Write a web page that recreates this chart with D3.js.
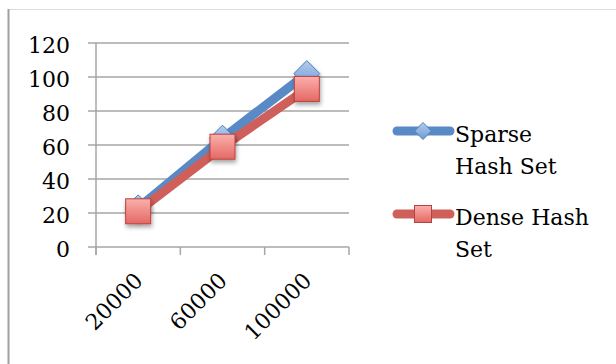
<!DOCTYPE html>
<html>
<head>
<meta charset="utf-8">
<script src="https://cdn.jsdelivr.net/npm/d3@7"></script>
<style>
  html, body { margin: 0; padding: 0; background: #fff; }
  svg { display: block; }
  text { font-family: "DejaVu Serif", serif; fill: #000; }
</style>
</head>
<body>
<script>
// Chart data
const categories = ["20000", "60000", "100000"];
const sparseValues = [23, 64, 102];
const denseValues = [21, 59, 93];
const yTicks = [0, 20, 40, 60, 80, 100, 120];
const seriesNames = ["Sparse Hash Set", "Dense Hash Set"];

const W = 616, H = 364;
const svg = d3.select("body").append("svg").attr("width", W).attr("height", H);

const defs = svg.append("defs");
const gBlue = defs.append("linearGradient").attr("id", "gBlue").attr("x1", 0).attr("y1", 0).attr("x2", 0).attr("y2", 1);
gBlue.append("stop").attr("offset", "0%").attr("stop-color", "#b3cdee");
gBlue.append("stop").attr("offset", "100%").attr("stop-color", "#6f9ad6");
const gRed = defs.append("linearGradient").attr("id", "gRed").attr("x1", 0).attr("y1", 0).attr("x2", 0).attr("y2", 1);
gRed.append("stop").attr("offset", "0%").attr("stop-color", "#fbb0ad");
gRed.append("stop").attr("offset", "100%").attr("stop-color", "#e46863");
const shadow = defs.append("filter").attr("id", "shadow").attr("x", "-50%").attr("y", "-50%").attr("width", "200%").attr("height", "200%");
shadow.append("feDropShadow").attr("dx", 1).attr("dy", 3).attr("stdDeviation", 2).attr("flood-color", "#000").attr("flood-opacity", 0.35);

// Chart frame
svg.append("line").attr("x1", 9).attr("x2", W).attr("y1", 9.5).attr("y2", 9.5)
  .attr("stroke", "#dcdcdc").attr("stroke-width", 1);
svg.append("line").attr("x1", 8.5).attr("x2", 8.5).attr("y1", 9).attr("y2", H)
  .attr("stroke", "#a0a0a0").attr("stroke-width", 2);

const plot = { left: 96, right: 349, top: 43, bottom: 247 };

const x = d3.scaleBand().domain(categories).range([plot.left, plot.right]);
const y = d3.scaleLinear().domain([0, 120]).range([plot.bottom, plot.top]);

// Horizontal gridlines with left tick stubs
const grid = svg.append("g");
grid.selectAll("line").data(yTicks).join("line")
  .attr("x1", plot.left - 8).attr("x2", plot.right)
  .attr("y1", d => y(d)).attr("y2", d => y(d))
  .attr("stroke", "#a6a6a6").attr("stroke-width", 1.5);

// Y axis line
svg.append("line").attr("x1", plot.left).attr("x2", plot.left)
  .attr("y1", plot.top).attr("y2", plot.bottom + 8)
  .attr("stroke", "#a6a6a6").attr("stroke-width", 1.5);

// X category boundary ticks
const xEdges = categories.map(c => x(c)).concat([x(categories[categories.length - 1]) + x.bandwidth()]);
svg.append("g").selectAll("line").data(xEdges).join("line")
  .attr("x1", d => d).attr("x2", d => d)
  .attr("y1", plot.bottom).attr("y2", plot.bottom + 8)
  .attr("stroke", "#a6a6a6").attr("stroke-width", 1.5);

// Y tick labels
svg.append("g").selectAll("text").data(yTicks).join("text")
  .attr("x", 70).attr("y", d => y(d) + 10)
  .attr("text-anchor", "end")
  .style("font-size", "22px")
  .text(d => d);

// X tick labels, rotated
svg.append("g").selectAll("text").data(categories).join("text")
  .attr("text-anchor", "end")
  .attr("transform", d => `translate(${x(d) + x.bandwidth() / 2 + 6},${plot.bottom + 35}) rotate(-45)`)
  .style("font-size", "22px")
  .text(d => d);

const cx = d => x(d) + x.bandwidth() / 2;
const line = d3.line().x(d => cx(d.c)).y(d => y(d.v));
const sparse = categories.map((c, i) => ({ c, v: sparseValues[i] }));
const dense = categories.map((c, i) => ({ c, v: denseValues[i] }));

// Series lines
svg.append("path").datum(sparse).attr("d", line)
  .attr("fill", "none").attr("stroke", "#5a8ac6").attr("stroke-width", 9)
  .attr("stroke-linecap", "round").attr("stroke-linejoin", "round");
svg.append("path").datum(dense).attr("d", line)
  .attr("fill", "none").attr("stroke", "#cf5f5a").attr("stroke-width", 9)
  .attr("stroke-linecap", "round").attr("stroke-linejoin", "round");

// Markers
function diamond(g, px, py, r) {
  g.append("path")
    .attr("d", `M${px},${py - r}L${px + r},${py}L${px},${py + r}L${px - r},${py}Z`)
    .attr("fill", "url(#gBlue)").attr("stroke", "#4a7ebb").attr("stroke-width", 1);
}
function square(g, px, py, s) {
  g.append("rect").attr("x", px - s / 2).attr("y", py - s / 2).attr("width", s).attr("height", s)
    .attr("fill", "url(#gRed)").attr("stroke", "#b9413d").attr("stroke-width", 1);
}
const mk = svg.append("g");
sparse.forEach(d => diamond(mk.append("g").attr("filter", "url(#shadow)"), cx(d.c), y(d.v), 13));
dense.forEach(d => square(mk.append("g").attr("filter", "url(#shadow)"), cx(d.c), y(d.v), 25));

// Legend
const legend = svg.append("g");
const legendRows = [
  { name: seriesNames[0], color: "#5a8ac6", ly: 131, lines: ["Sparse", "Hash Set"] },
  { name: seriesNames[1], color: "#cf5f5a", ly: 214, lines: ["Dense Hash", "Set"] }
];
legendRows.forEach((r, i) => {
  legend.append("line").attr("x1", 397).attr("x2", 450).attr("y1", r.ly).attr("y2", r.ly)
    .attr("stroke", r.color).attr("stroke-width", 9).attr("stroke-linecap", "round");
  if (i === 0) diamond(legend, 423, r.ly, 8.5);
  else square(legend, 423, r.ly, 17);
  const t = legend.append("text").attr("x", 455).attr("y", r.ly + 11).style("font-size", "22px");
  r.lines.forEach((s, j) => t.append("tspan").attr("x", 455).attr("dy", j === 0 ? 0 : 32).text(s));
});
</script>
</body>
</html>
